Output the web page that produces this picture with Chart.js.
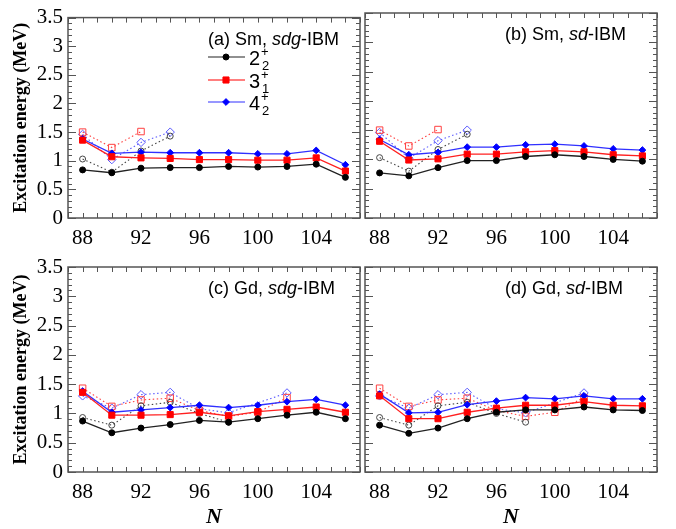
<!DOCTYPE html>
<html lang="en">
<head>
<meta charset="UTF-8">
<title>Excitation energies, Sm and Gd</title>
<script src="https://cdn.jsdelivr.net/npm/chart.js"></script>
<style>
  body { margin: 0; background: #fff; }
  #wrap { position: relative; width: 676px; height: 529px; }
  #wrap canvas { position: absolute; left: 0; top: 0; }
</style>
</head>
<body>
<div id="wrap">
  <canvas id="pa" width="676" height="529"></canvas>
  <canvas id="pb" width="676" height="529"></canvas>
  <canvas id="pc" width="676" height="529"></canvas>
  <canvas id="pd" width="676" height="529"></canvas>
</div>
<script>
// neutron numbers
var neutrons = [88, 90, 92, 94, 96, 98, 100, 102, 104, 106];
var xLabels = [88, 92, 96, 100, 104];

// Sm, sdg-IBM (theory)
var smSdg2 = [0.84, 0.79, 0.87, 0.88, 0.88, 0.90, 0.89, 0.90, 0.94, 0.71];
var smSdg3 = [1.36, 1.07, 1.05, 1.04, 1.02, 1.02, 1.01, 1.01, 1.05, 0.82];
var smSdg4 = [1.38, 1.13, 1.15, 1.14, 1.14, 1.14, 1.12, 1.12, 1.18, 0.93];
// Sm, sd-IBM (theory)
var smSd2 = [0.77, 0.72, 0.86, 0.98, 0.98, 1.05, 1.08, 1.05, 1.00, 0.97];
var smSd3 = [1.31, 0.99, 1.01, 1.09, 1.09, 1.13, 1.15, 1.13, 1.08, 1.06];
var smSd4 = [1.34, 1.08, 1.12, 1.21, 1.21, 1.25, 1.26, 1.23, 1.18, 1.16];
// Gd, sdg-IBM (theory)
var gdSdg2 = [0.87, 0.67, 0.75, 0.81, 0.88, 0.85, 0.91, 0.97, 1.02, 0.91];
var gdSdg3 = [1.36, 0.97, 0.97, 0.98, 1.02, 0.96, 1.03, 1.07, 1.11, 1.02];
var gdSdg4 = [1.38, 1.02, 1.06, 1.10, 1.14, 1.10, 1.14, 1.20, 1.24, 1.14];
// Gd, sd-IBM (theory)
var gdSd2 = [0.80, 0.66, 0.75, 0.91, 1.02, 1.06, 1.06, 1.11, 1.06, 1.05];
var gdSd3 = [1.30, 0.91, 0.91, 1.02, 1.09, 1.14, 1.14, 1.20, 1.14, 1.13];
var gdSd4 = [1.33, 1.01, 1.02, 1.15, 1.21, 1.27, 1.25, 1.30, 1.25, 1.25];

// experiment (open symbols, dotted)
var expSm2 = [1.03, 0.80, 1.17, 1.43, null, null, null, null, null, null];
var expSm3 = [1.50, 1.23, 1.51, null, null, null, null, null, null, null];
var expSm4 = [1.46, 1.02, 1.32, 1.50, null, null, null, null, null, null];
var expGd2 = [0.93, 0.80, 1.13, 1.19, 1.00, 0.85, null, null, null, null];
var expGd3 = [1.43, 1.12, 1.23, 1.26, 1.05, 0.95, 1.02, 1.27, null, null];
var expGd4 = [1.30, 1.09, 1.32, 1.36, 1.08, 1.01, null, 1.35, null, null];

var SERIF = '"Liberation Serif", "Times New Roman", serif';
var SANS = '"Liberation Sans", Arial, sans-serif';

function pts(vals) {
  return neutrons.map(function (n, i) { return { x: n, y: vals[i] }; });
}

function theory(vals, color, line, style, r) {
  return {
    data: pts(vals), borderColor: line, borderWidth: 1.3,
    pointStyle: style, pointRadius: r, pointBackgroundColor: color,
    pointBorderColor: color, pointBorderWidth: 1
  };
}

function expt(vals, color, style, r) {
  return {
    data: pts(vals), borderColor: color, borderWidth: 1.1, borderDash: [1.5, 2.5],
    pointStyle: style, pointRadius: r, pointBackgroundColor: 'rgba(255,255,255,0)',
    pointBorderColor: color, pointBorderWidth: 1, spanGaps: true
  };
}

var framePlugin = {
  id: 'frame',
  beforeDatasetsDraw: function (chart) {
    var ctx = chart.ctx, a = chart.chartArea;
    var xs = chart.scales.x, ys = chart.scales.y;
    ctx.save();
    ctx.strokeStyle = '#555';
    ctx.lineWidth = 1;
    ctx.beginPath();
    for (var n = 87; n <= 107; n++) {
      var x = Math.round(xs.getPixelForValue(n)) + 0.5;
      ctx.moveTo(x, a.bottom); ctx.lineTo(x, a.bottom - 5);
      ctx.moveTo(x, a.top); ctx.lineTo(x, a.top + 5);
    }
    for (var k = 0; k <= 35; k++) {
      var y = Math.round(ys.getPixelForValue(k / 10)) + 0.5;
      var len = k % 5 === 0 ? 8 : 4;
      ctx.moveTo(a.left, y); ctx.lineTo(a.left + len, y);
      ctx.moveTo(a.right, y); ctx.lineTo(a.right - len, y);
    }
    ctx.stroke();
    ctx.lineWidth = 1.5;
    ctx.strokeRect(a.left, a.top, a.right - a.left, a.bottom - a.top);
    ctx.restore();
  }
};

// text pieces: [text, italic]
function drawMixed(ctx, parts, x, y, size) {
  parts.forEach(function (p) {
    ctx.font = (p[1] ? 'italic ' : '') + size + 'px ' + SANS;
    ctx.fillText(p[0], x, y);
    x += ctx.measureText(p[0]).width;
  });
}

var labelPlugin = {
  id: 'labels',
  afterDraw: function (chart) {
    var o = chart.options.plugins.labels;
    var ctx = chart.ctx, a = chart.chartArea;
    ctx.save();
    ctx.fillStyle = '#000';
    ctx.textBaseline = 'alphabetic';
    ctx.textAlign = 'left';
    drawMixed(ctx, o.title, a.left + o.titleDx, a.top + 27, 18);

    if (o.yTitle) {
      ctx.save();
      ctx.translate(21, (a.top + a.bottom) / 2);
      ctx.rotate(-Math.PI / 2);
      ctx.textAlign = 'center';
      ctx.textBaseline = 'middle';
      ctx.font = 'bold 18px ' + SERIF;
      ctx.fillText('Excitation energy (MeV)', 0, 0);
      ctx.restore();
    }
    if (o.nTitle) {
      ctx.textAlign = 'center';
      ctx.textBaseline = 'middle';
      ctx.font = 'italic bold 22px ' + SERIF;
      ctx.fillText('N', (a.left + a.right) / 2, 517);
      ctx.textAlign = 'left';
      ctx.textBaseline = 'alphabetic';
    }
    if (o.legend) {
      var rows = [
        { c: '#000', l: '#222', s: 'circle', r: 3, sup: '+', sub: '2' },
        { c: '#ff0000', l: '#ff0000', s: 'rect', r: 4.3, sup: '+', sub: '1' },
        { c: '#0000ff', l: '#3030ff', s: 'rectRot', r: 3.4, sup: '+', sub: '2' }
      ];
      var ys = [57, 80, 102];
      rows.forEach(function (row, i) {
        var y = ys[i];
        ctx.strokeStyle = row.l;
        ctx.lineWidth = 1.2;
        ctx.beginPath(); ctx.moveTo(208, y); ctx.lineTo(245, y); ctx.stroke();
        ctx.fillStyle = row.c; ctx.strokeStyle = row.c; ctx.lineWidth = 1;
        Chart.helpers.drawPoint(ctx, { pointStyle: row.s, radius: row.r, rotation: 0, borderWidth: 1 }, 226, y);
        ctx.fillStyle = '#000';
        ctx.font = '20px ' + SANS;
        var base = y + 8;
        var lbl = i === 1 ? '3' : (i === 0 ? '2' : '4');
        ctx.fillText(lbl, 249, base);
        var w = ctx.measureText(lbl).width;
        ctx.font = '13px ' + SANS;
        ctx.fillText(row.sup, 249 + w + 1, base - 9);
        ctx.fillText(row.sub, 249 + w + 2, base + 5);
      });
    }
    ctx.restore();
  }
};

function makePanel(id, box, showY, sets, labels) {
  var yW = showY ? 45 : 0;
  var xH = 40;
  new Chart(document.getElementById(id), {
    type: 'line',
    data: { datasets: sets },
    options: {
      responsive: false,
      animation: false,
      events: [],
      layout: {
        padding: { left: box.l - yW, right: 676 - box.r, top: box.t, bottom: 529 - box.b - xH }
      },
      plugins: { legend: { display: false }, tooltip: { enabled: false }, labels: labels },
      scales: {
        x: {
          type: 'linear', min: 87, max: 107,
          grid: { display: false, drawTicks: false },
          border: { display: false },
          afterFit: function (s) { s.height = xH; },
          ticks: {
            stepSize: 1, autoSkip: false, maxRotation: 0, padding: 8, color: '#000',
            font: { family: SERIF, size: 21 },
            callback: function (v) { return xLabels.indexOf(v) >= 0 ? String(v) : ''; }
          }
        },
        y: {
          min: 0, max: 3.5,
          grid: { display: false, drawTicks: false },
          border: { display: false },
          afterFit: function (s) { s.width = yW; },
          ticks: {
            display: showY, stepSize: 0.5, autoSkip: false, padding: 5, color: '#000',
            font: { family: SERIF, size: 21 },
            callback: function (v) { return String(v); }
          }
        }
      }
    },
    plugins: [framePlugin, labelPlugin]
  });
}

function panelSets(t2, t3, t4, e2, e3, e4) {
  return [
    theory(t2, '#000', '#222', 'circle', 3),
    theory(t3, '#ff0000', '#ff2020', 'rect', 4.3),
    theory(t4, '#0000ff', '#3030ff', 'rectRot', 3.4),
    expt(e2, '#444', 'circle', 3),
    expt(e3, '#ff4040', 'rect', 4.6),
    expt(e4, '#5a5aff', 'rectRot', 4.2)
  ];
}

makePanel('pa', { l: 68, r: 360, t: 13, b: 218 }, true,
  panelSets(smSdg2, smSdg3, smSdg4, expSm2, expSm3, expSm4),
  { title: [['(a) Sm, ', false], ['sdg', true], ['-IBM', false]], titleDx: 140, yTitle: true, nTitle: false, legend: true });
makePanel('pb', { l: 365, r: 657, t: 13, b: 218 }, false,
  panelSets(smSd2, smSd3, smSd4, expSm2, expSm3, expSm4),
  { title: [['(b) Sm, ', false], ['sd', true], ['-IBM', false]], titleDx: 140, yTitle: false, nTitle: false, legend: false });
makePanel('pc', { l: 68, r: 360, t: 267, b: 472 }, true,
  panelSets(gdSdg2, gdSdg3, gdSdg4, expGd2, expGd3, expGd4),
  { title: [['(c) Gd, ', false], ['sdg', true], ['-IBM', false]], titleDx: 140, yTitle: true, nTitle: true, legend: false });
makePanel('pd', { l: 365, r: 657, t: 267, b: 472 }, false,
  panelSets(gdSd2, gdSd3, gdSd4, expGd2, expGd3, expGd4),
  { title: [['(d) Gd, ', false], ['sd', true], ['-IBM', false]], titleDx: 140, yTitle: false, nTitle: true, legend: false });
</script>
</body>
</html>
